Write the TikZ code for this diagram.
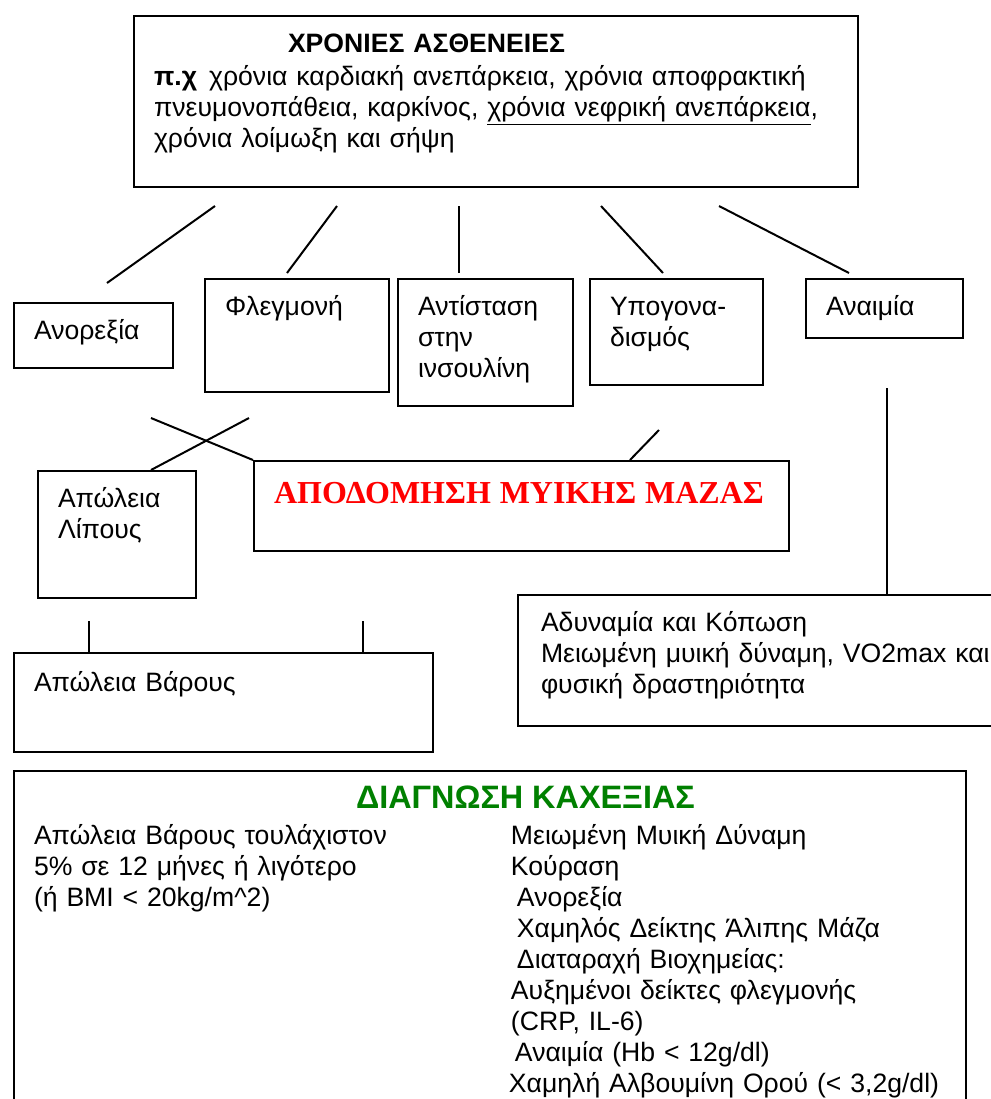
\documentclass[tikz,border=0pt]{standalone}
\usepackage{fontspec}
\setmainfont{Liberation Sans}
\newfontfamily\romanfont{Liberation Serif}
\usetikzlibrary{calc,positioning}
\definecolor{diaggreen}{RGB}{0,128,0}
\tikzset{
  blk/.style 2 args={draw, line width=1pt, anchor=north west, align=left,
    inner xsep=10pt, inner ysep=0pt, text height=18pt,
    text width=#1, text depth=#2},
  link/.style={line width=1pt}
}

\begin{document}
\begin{tikzpicture}[x=0.5pt,y=-0.5pt,font=\fontsize{13.3pt}{15.5pt}\selectfont]
\useasboundingbox (0,0) rectangle (991,1099);
% top box
\node[blk={342pt}{67.5pt}] (chron) at (133,15) {\hspace*{67pt}\textbf{ΧΡΟΝΙΕΣ ΑΣΘΕΝΕΙΕΣ}\\[1pt]
\mbox{\textbf{π.χ}\hspace{6pt}χρόνια καρδιακή ανεπάρκεια, χρόνια αποφρακτική}\\
\mbox{πνευμονοπάθεια, καρκίνος, \underline{χρόνια νεφρική ανεπάρκεια},}\\
χρόνια λοίμωξη και σήψη};
% second row
\node[blk={59.5pt}{14.5pt}] (anor) at (13,302) {Ανορεξία};
\node[blk={72pt}{38.5pt}] (flegm) at (204,278) {Φλεγμονή};
\node[blk={67.5pt}{45.5pt}] (antist) at (397,278) {Αντίσταση\\στην\\ινσουλίνη};
\node[blk={66.5pt}{35pt}] (ypog) at (589,278) {Υπογονα-\\δισμός};
\node[blk={58.5pt}{11.5pt}] (anaim) at (805,278) {Αναιμία};
% third row
\node[blk={59pt}{45.5pt}] (lipos) at (37,470) {Απώλεια\\Λίπους};
\node[blk={247.5pt}{24pt}, text height=21pt] (apod) at (253,460)
  {\romanfont\bfseries\fontsize{16pt}{18pt}\selectfont\color{red}ΑΠΟΔΟΜΗΣΗ ΜΥΙΚΗΣ ΜΑΖΑΣ};
\node[blk={260pt}{47.5pt}, inner xsep=11.5pt] (adyn) at (517,594) {Αδυναμία και Κόπωση\\
Μειωμένη μυική δύναμη, VO2max και\\
φυσική δραστηριότητα};
\node[blk={189.5pt}{30.5pt}, text height=19pt] (varos) at (13,652) {Απώλεια Βάρους};
% diagnosis
\node[blk={456pt}{156.5pt}, text height=18.5pt] (diag) at (13,770)
  {\hspace*{161pt}{\fontsize{16.2pt}{18pt}\selectfont\bfseries\color{diaggreen}ΔΙΑΓΝΩΣΗ ΚΑΧΕΞΙΑΣ}\\[2.5pt]
  \begin{tabular}[t]{@{}p{238.5pt}@{}p{217.5pt}@{}}
  Απώλεια Βάρους τουλάχιστον & Μειωμένη Μυική Δύναμη\\
  5\% σε 12 μήνες ή λιγότερο & Κούραση\\
  (ή BMI < 20kg/m\textasciicircum 2) & \hspace*{3pt}Ανορεξία\\
  & \hspace*{3pt}Χαμηλός Δείκτης Άλιπης Μάζα\\
  & \hspace*{3pt}Διαταραχή Βιοχημείας:\\
  & Αυξημένοι δείκτες φλεγμονής\\
  & (CRP, IL-6)\\
  & \hspace*{2pt}Αναιμία (Hb < 12g/dl)\\
  & \mbox{\hspace*{-1pt}Χαμηλή Αλβουμίνη Ορού (< 3,2g/dl)}
  \end{tabular}};
% connectors
\draw[link] ($(chron.south west)+(82,18)$) -- ($(anor.north west)+(94,-19)$);
\draw[link] ($(chron.south west)+(204,18)$) -- ($(flegm.north west)+(83,-5)$);
\draw[link] ($(chron.south west)+(326,18)$) -- ($(antist.north west)+(62,-5)$);
\draw[link] ($(chron.south west)+(468,18)$) -- ($(ypog.north west)+(74,-5)$);
\draw[link] ($(chron.south west)+(586,18)$) -- ($(anaim.north west)+(44,-5)$);
\draw[link] ($(flegm.south west)+(-53,25)$) -- (apod.north west);
\draw[link] ($(flegm.south west)+(45,25)$) -- ($(lipos.north west)+(114,0)$);
\draw[link] ($(ypog.south west)+(70,44)$) -- ($(apod.north west)+(377,0)$);
\draw[link] ($(anaim.south west)+(82,49)$) -- ($(adyn.north west)+(370,0)$);
\draw[link] ($(varos.north west)+(76,-31)$) -- ($(varos.north west)+(76,0)$);
\draw[link] ($(varos.north west)+(350,-31)$) -- ($(varos.north west)+(350,0)$);
\end{tikzpicture}
\end{document}
